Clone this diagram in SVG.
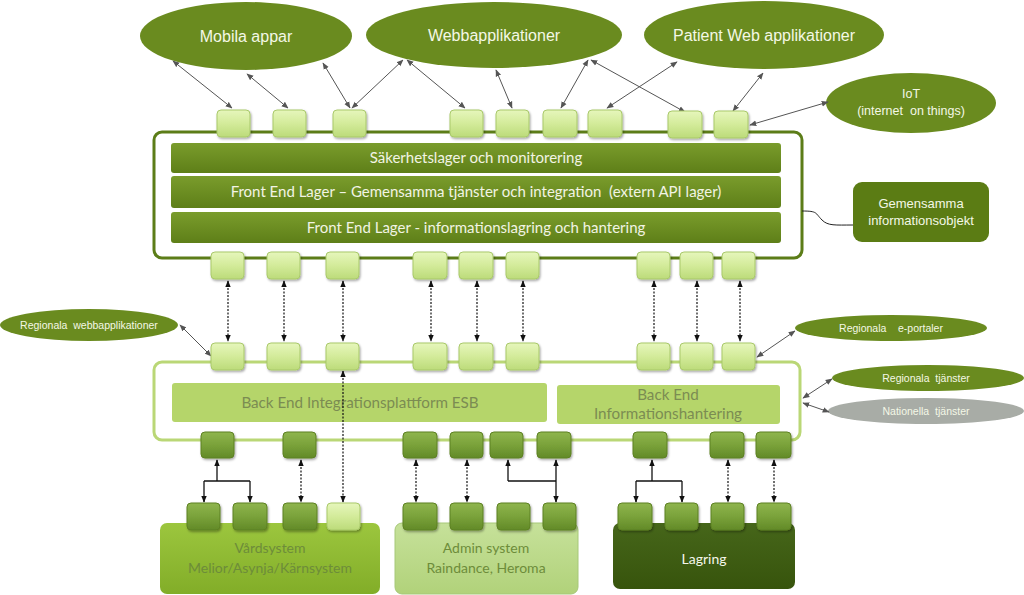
<svg xmlns="http://www.w3.org/2000/svg" width="1024" height="595" viewBox="0 0 1024 595">
<defs>
  <linearGradient id="gLight" x1="0" y1="0" x2="0" y2="1">
    <stop offset="0" stop-color="#e6f6bc"/>
    <stop offset="0.5" stop-color="#d3eb9a"/>
    <stop offset="1" stop-color="#bcdb7a"/>
  </linearGradient>
  <linearGradient id="gDark" x1="0" y1="0" x2="0" y2="1">
    <stop offset="0" stop-color="#8fb54e"/>
    <stop offset="0.5" stop-color="#7aa23a"/>
    <stop offset="1" stop-color="#628a28"/>
  </linearGradient>
  <linearGradient id="gBar" x1="0" y1="0" x2="0" y2="1">
    <stop offset="0" stop-color="#7a9c2c"/>
    <stop offset="1" stop-color="#5e7f18"/>
  </linearGradient>
  <linearGradient id="gVard" x1="0" y1="0" x2="0" y2="1">
    <stop offset="0" stop-color="#9cc63e"/>
    <stop offset="1" stop-color="#82ad28"/>
  </linearGradient>
  <linearGradient id="gAdmin" x1="0" y1="0" x2="0" y2="1">
    <stop offset="0" stop-color="#c6e19a"/>
    <stop offset="1" stop-color="#b1d27a"/>
  </linearGradient>
  <linearGradient id="gLag" x1="0" y1="0" x2="0" y2="1">
    <stop offset="0" stop-color="#46661a"/>
    <stop offset="1" stop-color="#37540c"/>
  </linearGradient>
  <filter id="sh" x="-20%" y="-20%" width="150%" height="150%">
    <feDropShadow dx="1" dy="1.5" stdDeviation="1" flood-color="#000" flood-opacity="0.35"/>
  </filter>
  <marker id="ag" viewBox="0 0 10 10" refX="9" refY="5" markerWidth="7" markerHeight="7" orient="auto-start-reverse" markerUnits="userSpaceOnUse">
    <path d="M0,1 L10,5 L0,9 z" fill="#555"/>
  </marker>
  <marker id="ab" viewBox="0 0 10 10" refX="9" refY="5" markerWidth="7" markerHeight="7" orient="auto-start-reverse" markerUnits="userSpaceOnUse">
    <path d="M0,1 L10,5 L0,9 z" fill="#111"/>
  </marker>
</defs>
<style>
  text { white-space: pre; }
  .ell { fill: #6a8b1f; }
  .etxt { font-family: "Liberation Sans", Arial, sans-serif; fill: #f4f8e6; text-anchor: middle; }
  .lb { fill: url(#gLight); stroke: #a9c96b; stroke-width: 1; filter: url(#sh); }
  .db { fill: url(#gDark); stroke: #5d8122; stroke-width: 1; filter: url(#sh); }
  .bar { fill: url(#gBar); }
  .btxt { font-family: Lato, "Open Sans", sans-serif; font-size: 15px; fill: #f2f4e4; text-anchor: middle; }
  .bktxt { font-family: Lato, "Open Sans", sans-serif; font-size: 15.2px; fill: #7b8c52; text-anchor: middle; }
  .stxt { font-family: Lato, "Open Sans", sans-serif; font-size: 14px; text-anchor: middle; }
  .cg { stroke: #555; stroke-width: 1; fill: none; marker-start: url(#ag); marker-end: url(#ag); }
  .cd { stroke: #111; stroke-width: 1.2; stroke-dasharray: 2 1.5; fill: none; marker-start: url(#ab); marker-end: url(#ab); }
  .cs { stroke: #111; stroke-width: 1.3; fill: none; }
  .cse { stroke: #111; stroke-width: 1.3; fill: none; marker-end: url(#ab); }
  .csb { stroke: #111; stroke-width: 1.3; fill: none; marker-start: url(#ab); marker-end: url(#ab); }
</style>
<rect width="1024" height="595" fill="#ffffff"/>

<!-- Containers -->
<g id="frontend">
  <rect x="154" y="132" width="648" height="126" rx="8" fill="#fff" stroke="#5c7d18" stroke-width="3"/>
  <rect class="bar" x="171" y="143" width="610" height="30" rx="3"/>
  <text class="btxt" x="476" y="163">Säkerhetslager och monitorering</text>
  <rect class="bar" x="171" y="176" width="610" height="32" rx="3"/>
  <text class="btxt" x="476" y="197">Front End Lager – Gemensamma tjänster och integration  (extern API lager)</text>
  <rect class="bar" x="171" y="212" width="610" height="31" rx="3"/>
  <text class="btxt" x="476" y="233">Front End Lager - informationslagring och hantering</text>
</g>
<g id="backend">
  <rect x="154" y="362" width="646" height="78" rx="8" fill="#fff" stroke="#bad776" stroke-width="3"/>
  <rect x="172" y="383" width="375" height="39" rx="3" fill="#b5d56a"/>
  <text class="bktxt" x="360" y="408">Back End Integrationsplattform ESB</text>
  <rect x="557" y="385" width="223" height="39" rx="3" fill="#b5d56a"/>
  <text class="bktxt" x="668" y="400">Back End</text>
  <text class="bktxt" x="668" y="419">Informationshantering</text>
</g>

<!-- Ellipses -->
<g id="mobila"><ellipse class="ell" cx="246" cy="36" rx="106" ry="34"/><text class="etxt" x="246" y="42" font-size="16">Mobila appar</text></g>
<g id="webb"><ellipse class="ell" cx="494" cy="35" rx="128" ry="33"/><text class="etxt" x="494" y="41" font-size="16">Webbapplikationer</text></g>
<g id="patient"><ellipse class="ell" cx="764" cy="35" rx="120" ry="34"/><text class="etxt" x="764" y="41" font-size="16">Patient Web applikationer</text></g>
<g id="iot"><ellipse class="ell" cx="911" cy="103" rx="85" ry="30"/><text class="etxt" x="911" y="98" font-size="12.5">IoT</text><text class="etxt" x="911" y="115" font-size="12.5">(internet  on things)</text></g>
<g id="gemensamma"><rect x="853" y="182" width="136" height="60" rx="9" fill="#5b7c14"/><text class="etxt" x="921" y="208" font-size="13">Gemensamma</text><text class="etxt" x="921" y="225" font-size="13">informationsobjekt</text></g>
<g id="regwebb"><ellipse class="ell" cx="89" cy="325" rx="89" ry="16"/><text class="etxt" x="89" y="329" font-size="10.5">Regionala  webbapplikationer</text></g>
<g id="regeportal"><ellipse class="ell" cx="891" cy="328" rx="96" ry="13"/><text class="etxt" x="891" y="332" font-size="10.5">Regionala    e-portaler</text></g>
<g id="regtj"><ellipse class="ell" cx="928" cy="378" rx="96" ry="13"/><text class="etxt" x="926" y="382" font-size="10.5">Regionala  tjänster</text></g>
<g id="nattj"><ellipse cx="926" cy="411" rx="98" ry="13" fill="#a8aca6"/><text class="etxt" x="926" y="415" font-size="10.5">Nationella  tjänster</text></g>

<!-- Systems -->
<g id="vard"><rect x="160" y="523" width="220" height="71" rx="7" fill="url(#gVard)"/><text class="stxt" x="270" y="553" fill="#6d8c3a">Vårdsystem</text><text class="stxt" x="270" y="573" fill="#6d8c3a">Melior/Asynja/Kärnsystem</text></g>
<g id="admin"><rect x="395" y="523" width="183" height="71" rx="7" fill="url(#gAdmin)" stroke="#a6c878" stroke-width="1"/><text class="stxt" x="486" y="553" fill="#6d8c3a">Admin system</text><text class="stxt" x="486" y="573" fill="#6d8c3a">Raindance, Heroma</text></g>
<g id="lagring"><rect x="613" y="523" width="182" height="66" rx="7" fill="url(#gLag)"/><text class="stxt" x="704" y="564" fill="#f4f6ea" font-size="17">Lagring</text></g>

<!-- Connectors -->
<g id="connectors">
  <path class="cg" d="M173,61 L232,108"/>
  <path class="cg" d="M247,74 L288,108"/>
  <path class="cg" d="M323,63 L350,108"/>
  <path class="cg" d="M352,108 L403,60"/>
  <path class="cg" d="M407,60 L465,108"/>
  <path class="cg" d="M496,70 L512,108"/>
  <path class="cg" d="M588,60 L561,108"/>
  <path class="cg" d="M591,60 L685,112"/>
  <path class="cg" d="M677,62 L607,108"/>
  <path class="cg" d="M763,73 L733,111"/>
  <path class="cg" d="M828,102 L750,125"/>
  <path class="cg" d="M180,325 L211,356"/>
  <path class="cg" d="M795,331 L757,357"/>
  <path class="cg" d="M803,398 L832,379"/>
  <path class="cg" d="M803,403 L829,412"/>
  <path d="M802,211 C818,211 815,213 822,220 C828,226 835,225 853,225" stroke="#222" stroke-width="1" fill="none"/>

  <path class="cd" d="M228,281 V341"/>
  <path class="cd" d="M284,281 V341"/>
  <path class="cd" d="M343,281 V341"/>
  <path class="cd" d="M431,281 V341"/>
  <path class="cd" d="M477,281 V341"/>
  <path class="cd" d="M523,281 V341"/>
  <path class="cd" d="M654,281 V341"/>
  <path class="cd" d="M697,281 V341"/>
  <path class="cd" d="M740,281 V341"/>
  <path class="cd" d="M343,371 V502"/>

  <path class="cd" d="M301,460 V502"/>
  <path class="cd" d="M416,460 V502"/>
  <path class="cd" d="M467,460 V502"/>
  <path class="cd" d="M728,460 V502"/>
  <path class="cd" d="M774,460 V502"/>

  <path class="cse" d="M217,481 V460"/>
  <path class="cs" d="M204,481 H250"/>
  <path class="cse" d="M204,481 V502"/>
  <path class="cse" d="M250,481 V502"/>

  <path class="cse" d="M508,481 V460"/>
  <path class="cs" d="M508,481 H556"/>
  <path class="csb" d="M556,460 V502"/>

  <path class="cse" d="M652,481 V460"/>
  <path class="cs" d="M636,481 H682"/>
  <path class="cse" d="M636,481 V502"/>
  <path class="cse" d="M682,481 V502"/>
</g>

<!-- Port boxes -->
<g id="ports-top">
  <rect class="lb" x="217" y="110" width="33" height="27" rx="4"/>
  <rect class="lb" x="273" y="110" width="33" height="27" rx="4"/>
  <rect class="lb" x="333" y="110" width="33" height="27" rx="4"/>
  <rect class="lb" x="450" y="110" width="33" height="27" rx="4"/>
  <rect class="lb" x="496" y="110" width="33" height="27" rx="4"/>
  <rect class="lb" x="543" y="110" width="34" height="27" rx="4"/>
  <rect class="lb" x="588" y="110" width="34" height="27" rx="4"/>
  <rect class="lb" x="668" y="111" width="34" height="27" rx="4"/>
  <rect class="lb" x="714" y="111" width="34" height="27" rx="4"/>
</g>
<g id="ports-fe-bottom">
  <rect class="lb" x="211" y="252" width="33" height="27" rx="4"/>
  <rect class="lb" x="267" y="252" width="33" height="27" rx="4"/>
  <rect class="lb" x="326" y="252" width="33" height="27" rx="4"/>
  <rect class="lb" x="413" y="252" width="34" height="27" rx="4"/>
  <rect class="lb" x="459" y="252" width="34" height="27" rx="4"/>
  <rect class="lb" x="506" y="252" width="33" height="27" rx="4"/>
  <rect class="lb" x="637" y="252" width="33" height="27" rx="4"/>
  <rect class="lb" x="680" y="252" width="33" height="27" rx="4"/>
  <rect class="lb" x="722" y="252" width="33" height="27" rx="4"/>
</g>
<g id="ports-be-top">
  <rect class="lb" x="211" y="343" width="33" height="27" rx="4"/>
  <rect class="lb" x="267" y="343" width="33" height="27" rx="4"/>
  <rect class="lb" x="326" y="343" width="33" height="27" rx="4"/>
  <rect class="lb" x="413" y="343" width="34" height="27" rx="4"/>
  <rect class="lb" x="459" y="343" width="34" height="27" rx="4"/>
  <rect class="lb" x="506" y="343" width="33" height="27" rx="4"/>
  <rect class="lb" x="637" y="343" width="33" height="27" rx="4"/>
  <rect class="lb" x="680" y="343" width="33" height="27" rx="4"/>
  <rect class="lb" x="722" y="343" width="33" height="27" rx="4"/>
</g>
<g id="ports-be-bottom">
  <rect class="db" x="201" y="432" width="33" height="26" rx="4"/>
  <rect class="db" x="283" y="432" width="33" height="26" rx="4"/>
  <rect class="db" x="403" y="432" width="34" height="26" rx="4"/>
  <rect class="db" x="450" y="432" width="33" height="26" rx="4"/>
  <rect class="db" x="490" y="432" width="33" height="26" rx="4"/>
  <rect class="db" x="537" y="432" width="34" height="26" rx="4"/>
  <rect class="db" x="633" y="432" width="34" height="26" rx="4"/>
  <rect class="db" x="710" y="432" width="34" height="26" rx="4"/>
  <rect class="db" x="756" y="432" width="35" height="26" rx="4"/>
</g>
<g id="ports-systems">
  <rect class="db" x="187" y="503" width="33" height="27" rx="4"/>
  <rect class="db" x="233" y="503" width="34" height="27" rx="4"/>
  <rect class="db" x="283" y="503" width="34" height="27" rx="4"/>
  <rect class="lb" x="327" y="503" width="33" height="27" rx="4"/>
  <rect class="db" x="403" y="503" width="34" height="27" rx="4"/>
  <rect class="db" x="450" y="503" width="33" height="27" rx="4"/>
  <rect class="db" x="497" y="503" width="33" height="27" rx="4"/>
  <rect class="db" x="543" y="503" width="33" height="27" rx="4"/>
  <rect class="db" x="618" y="503" width="34" height="27" rx="4"/>
  <rect class="db" x="665" y="503" width="33" height="27" rx="4"/>
  <rect class="db" x="711" y="503" width="33" height="27" rx="4"/>
  <rect class="db" x="757" y="503" width="34" height="27" rx="4"/>
</g>
</svg>
